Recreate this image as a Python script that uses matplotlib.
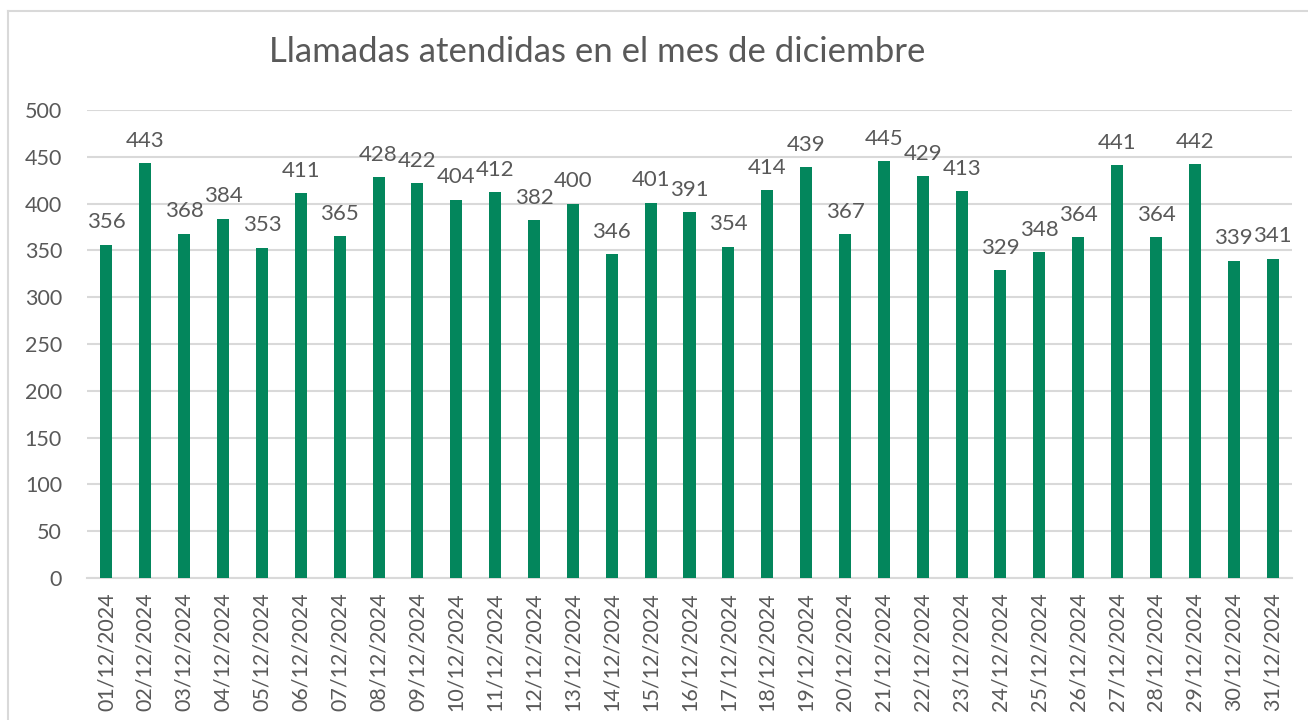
import matplotlib
matplotlib.use("Agg")
import matplotlib.pyplot as plt
from matplotlib.lines import Line2D

# Data
dates = ["%02d/12/2024" % d for d in range(1, 32)]
llamadas = [356, 443, 368, 384, 353, 411, 365, 428, 422, 404, 412, 382, 400, 346, 401,
            391, 354, 414, 439, 367, 445, 429, 413, 329, 348, 364, 441, 364, 442, 339, 341]
titulo = "Llamadas atendidas en el mes de diciembre"
yticks = [0, 50, 100, 150, 200, 250, 300, 350, 400, 450, 500]

BAR_COLOR = "#03865C"
TEXT_COLOR = "#595959"
GRID_COLOR = "#D9D9D9"

plt.rcParams['font.family'] = ['Lato', 'DejaVu Sans']

W, H = 1308, 720
fig = plt.figure(figsize=(W / 100, H / 100), dpi=100)
ax = fig.add_axes([87 / W, (H - 578) / H, (1292 - 87) / W, (578 - 110) / H])

x = list(range(len(dates)))
bars = ax.bar(x, llamadas, width=0.31, color=BAR_COLOR, zorder=3)
for xi, v in zip(x, llamadas):
    ax.annotate(str(v), (xi, v), xytext=(0, 9), textcoords="offset points",
                ha="center", va="bottom", fontsize=16, color=TEXT_COLOR)

ax.set_xlim(-0.5, len(dates) - 0.5)
ax.set_ylim(0, 500)
ax.set_yticks(yticks)
ax.set_xticks(x)
ax.set_xticklabels(dates, rotation=90)
ax.tick_params(axis="both", length=0, labelsize=15.5, labelcolor=TEXT_COLOR)
ax.tick_params(axis="x", pad=10)
ax.tick_params(axis="y", pad=18)
ax.grid(axis="y", color=GRID_COLOR, linewidth=1.5, zorder=0)
for s in ["top", "right", "left"]:
    ax.spines[s].set_visible(False)
ax.spines["bottom"].set_color(GRID_COLOR)
ax.spines["bottom"].set_linewidth(1.5)

fig.text(597 / W, (H - 52) / H, titulo, ha="center", va="center",
         fontsize=25, color=TEXT_COLOR)

# chart border
fig.add_artist(Line2D([8 / W, 1], [1 - 11 / H, 1 - 11 / H], color=GRID_COLOR, lw=1.5,
                      transform=fig.transFigure))
fig.add_artist(Line2D([8 / W, 8 / W], [0, 1 - 11 / H], color=GRID_COLOR, lw=1.5,
                      transform=fig.transFigure))

fig.savefig("out.png", dpi=100, facecolor="white")
